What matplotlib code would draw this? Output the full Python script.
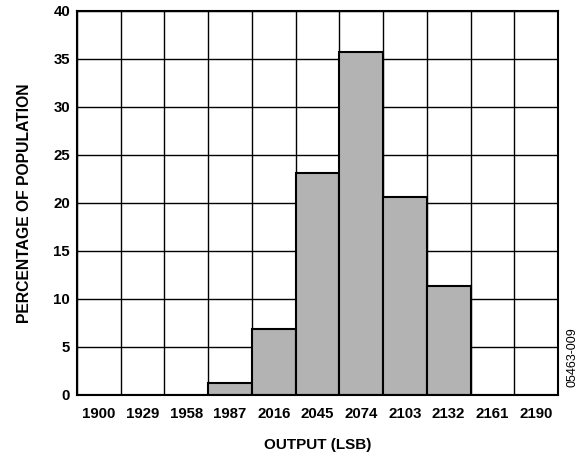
import matplotlib
matplotlib.use("Agg")
import matplotlib.pyplot as plt
from matplotlib import font_manager as fm
import numpy as np

categories = ["1900", "1929", "1958", "1987", "2016", "2045", "2074", "2103", "2132", "2161", "2190"]
values = [0, 0, 0, 1.2, 6.9, 23.1, 35.7, 20.6, 11.4, 0, 0]
yticks = [0, 5, 10, 15, 20, 25, 30, 35, 40]

bold_path = None
reg_path = None
for f in fm.findSystemFonts():
    name = f.split('/')[-1]
    if name == 'LiberationSans-Bold.ttf':
        bold_path = f
    if name == 'LiberationSans-Regular.ttf':
        reg_path = f

FS = 10.8
def bp(size):
    if bold_path:
        return fm.FontProperties(fname=bold_path, size=size)
    return fm.FontProperties(family='DejaVu Sans', weight='bold', size=size)
def rp(size):
    if reg_path:
        return fm.FontProperties(fname=reg_path, size=size)
    return fm.FontProperties(family='DejaVu Sans', size=size)

fig = plt.figure(figsize=(5.84, 4.55), dpi=100)
ax = fig.add_axes([77/584, 1 - 395/455, (558-77)/584, (395-11)/455])

x = np.arange(len(categories))
ax.set_xlim(-0.5, len(categories) - 0.5)
ax.set_ylim(0, 40)

for b in np.arange(-0.5, len(categories), 1.0):
    ax.axvline(b, color='black', lw=1.0, zorder=1)
for t in yticks:
    ax.axhline(t, color='black', lw=1.0, zorder=1)

ax.bar(x, values, width=1.0, color='#b3b3b3', edgecolor='black', linewidth=1.5, zorder=2)

ax.set_xticks(x)
ax.set_xticklabels(categories, fontproperties=bp(FS))
ax.set_yticks(yticks)
ax.set_yticklabels([str(t) for t in yticks], fontproperties=bp(FS))
ax.tick_params(axis='x', length=0, pad=9)
ax.tick_params(axis='y', length=0, pad=5)
for s in ax.spines.values():
    s.set_linewidth(1.5)
    s.set_zorder(3)

ax.set_xlabel("OUTPUT (LSB)", fontproperties=bp(11), labelpad=12)
ax.set_ylabel("PERCENTAGE OF POPULATION", fontproperties=bp(11.3), labelpad=15)

fig.text(572/584, 1 - 357/455, "05463-009", rotation=90, fontproperties=rp(9), ha='center', va='center')

fig.savefig("out.png", dpi=100)
